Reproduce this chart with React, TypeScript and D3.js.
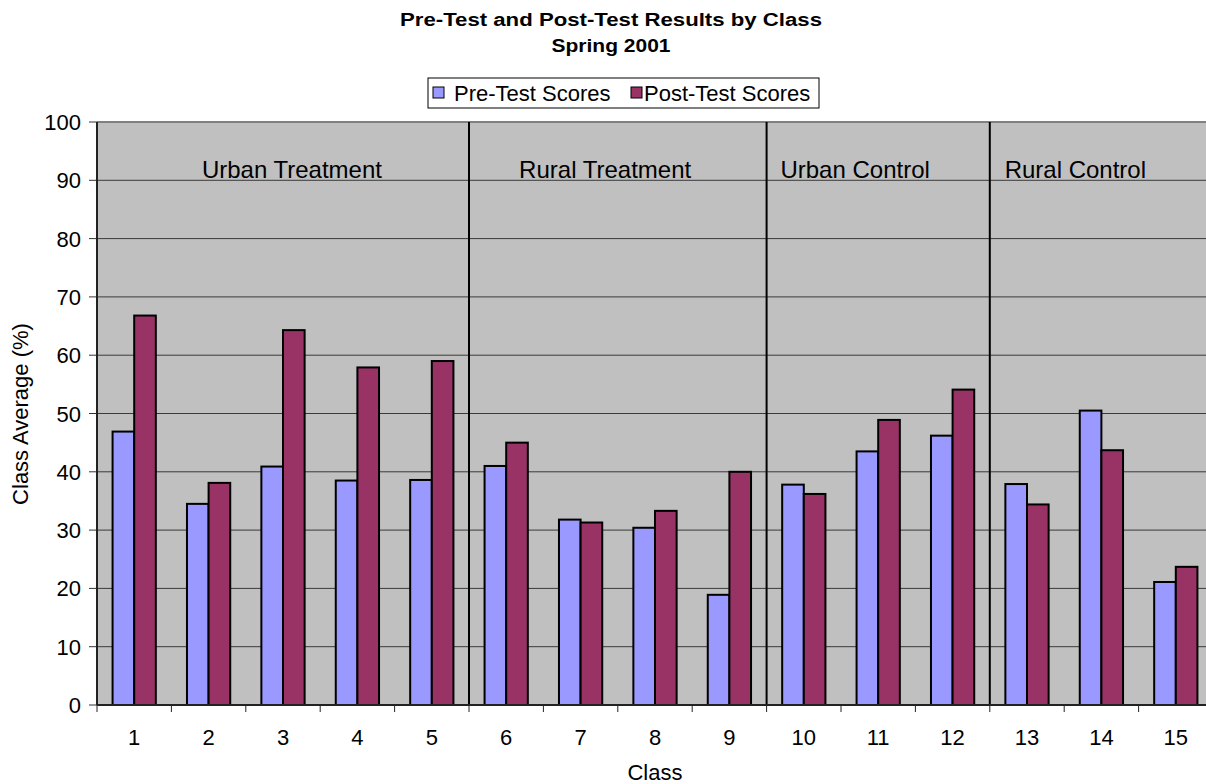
import * as d3 from "d3";

const classes = ["1", "2", "3", "4", "5", "6", "7", "8", "9", "10", "11", "12", "13", "14", "15"];
const preScores = [46.9, 34.5, 40.9, 38.5, 38.6, 41.0, 31.8, 30.4, 18.9, 37.8, 43.5, 46.2, 37.9, 50.5, 21.1];
const postScores = [66.8, 38.1, 64.3, 57.9, 59.0, 45.0, 31.3, 33.3, 40.0, 36.2, 48.9, 54.1, 34.4, 43.7, 23.7];
const yTicks = [0, 10, 20, 30, 40, 50, 60, 70, 80, 90, 100];

// groups of classes, label is placed at "labelAt" (in class units from the left edge)
const groupNames = ["Urban Treatment", "Rural Treatment", "Urban Control", "Rural Control"];
const groupEnds = [5, 9, 12, 15];
const groupLabelAt = [2.62, 6.83, 10.19, 13.15];

const seriesNames = ["Pre-Test Scores", "Post-Test Scores"];
const seriesColors = ["#9999FF", "#993366"];

const W = 1206;
const H = 784;
const FONT = "'Liberation Sans', Arial, Helvetica, sans-serif";

const App = () => {
  const left = 97;
  const right = 1213;
  const top = 122;
  const bottom = 705;

  const x = d3.scaleBand<string>().domain(classes).range([left, right]);
  const inner = d3
    .scaleBand<number>()
    .domain([0, 1])
    .range([0, x.bandwidth()])
    .paddingInner(0)
    .paddingOuter(0.72);
  const y = d3.scaleLinear().domain([0, 100]).range([bottom, top]);
  const bandW = x.bandwidth();

  const data = classes.map((c, i) => ({ c, vals: [preScores[i], postScores[i]] }));

  return (
    <svg width={W} height={H} style={{ position: "absolute", left: 0, top: 0, display: "block" }}>
      <rect x={0} y={0} width={W} height={H} fill="white" />
      {/* title */}
      <text x={611} y={26} textAnchor="middle" fontFamily={FONT} fontWeight="bold" fontSize={18} textLength={422} lengthAdjust="spacingAndGlyphs">
        Pre-Test and Post-Test Results by Class
      </text>
      <text x={611} y={52} textAnchor="middle" fontFamily={FONT} fontWeight="bold" fontSize={18} textLength={119} lengthAdjust="spacingAndGlyphs">
        Spring 2001
      </text>

      {/* legend */}
      <rect x={428} y={78} width={391} height={30} fill="white" stroke="black" strokeWidth={1} />
      {seriesNames.map((s, i) => {
        const lx = i === 0 ? 433 : 631;
        return (
          <g key={s}>
            <rect x={lx} y={87} width={11} height={11} fill={seriesColors[i]} stroke="black" strokeWidth={1} />
            <text x={lx + (i === 0 ? 21 : 13)} y={101} fontFamily={FONT} fontSize={22}>
              {s}
            </text>
          </g>
        );
      })}

      {/* plot area */}
      <rect x={left} y={top} width={right - left} height={bottom - top} fill="#C0C0C0" />
      {yTicks.map((t) => (
        <g key={t}>
          <line x1={left} x2={right} y1={y(t)} y2={y(t)} stroke={t === 100 ? "#808080" : "#3a3a3a"} strokeWidth={t === 100 ? 2 : 1} />
          <line x1={left - 8} x2={left} y1={y(t)} y2={y(t)} stroke="#333" strokeWidth={1} />
          <text x={81} y={y(t) + 8} textAnchor="end" fontFamily={FONT} fontSize={22}>
            {t}
          </text>
        </g>
      ))}

      {/* group separators */}
      {groupEnds.slice(0, -1).map((g) => (
        <line key={g} x1={left + g * bandW} x2={left + g * bandW} y1={top} y2={bottom} stroke="black" strokeWidth={2} />
      ))}
      {groupNames.map((n, i) => (
        <text key={n} x={left + groupLabelAt[i] * bandW} y={178} textAnchor="middle" fontFamily={FONT} fontSize={24}>
          {n}
        </text>
      ))}

      {/* bars */}
      {data.map((d) => (
        <g key={d.c} transform={`translate(${x(d.c)},0)`}>
          {d.vals.map((v, j) => (
            <rect
              key={j}
              x={inner(j)}
              y={y(v)}
              width={inner.bandwidth()}
              height={bottom - y(v)}
              fill={seriesColors[j]}
              stroke="black"
              strokeWidth={2}
            />
          ))}
        </g>
      ))}

      {/* axes */}
      <line x1={left} x2={left} y1={top} y2={bottom} stroke="#222" strokeWidth={2} />
      <line x1={left} x2={right} y1={bottom} y2={bottom} stroke="#222" strokeWidth={2} />
      {classes.map((c, i) => (
        <g key={c}>
          <line x1={left + i * bandW} x2={left + i * bandW} y1={bottom} y2={bottom + 7} stroke="#222" strokeWidth={1} />
          <text x={(x(c) ?? 0) + bandW / 2} y={745} textAnchor="middle" fontFamily={FONT} fontSize={22}>
            {c}
          </text>
        </g>
      ))}
      <text x={655} y={780} textAnchor="middle" fontFamily={FONT} fontSize={22}>
        Class
      </text>
      <text transform="translate(28,414) rotate(-90)" textAnchor="middle" fontFamily={FONT} fontSize={22}>
        Class Average (%)
      </text>
    </svg>
  );
};

export default App;
